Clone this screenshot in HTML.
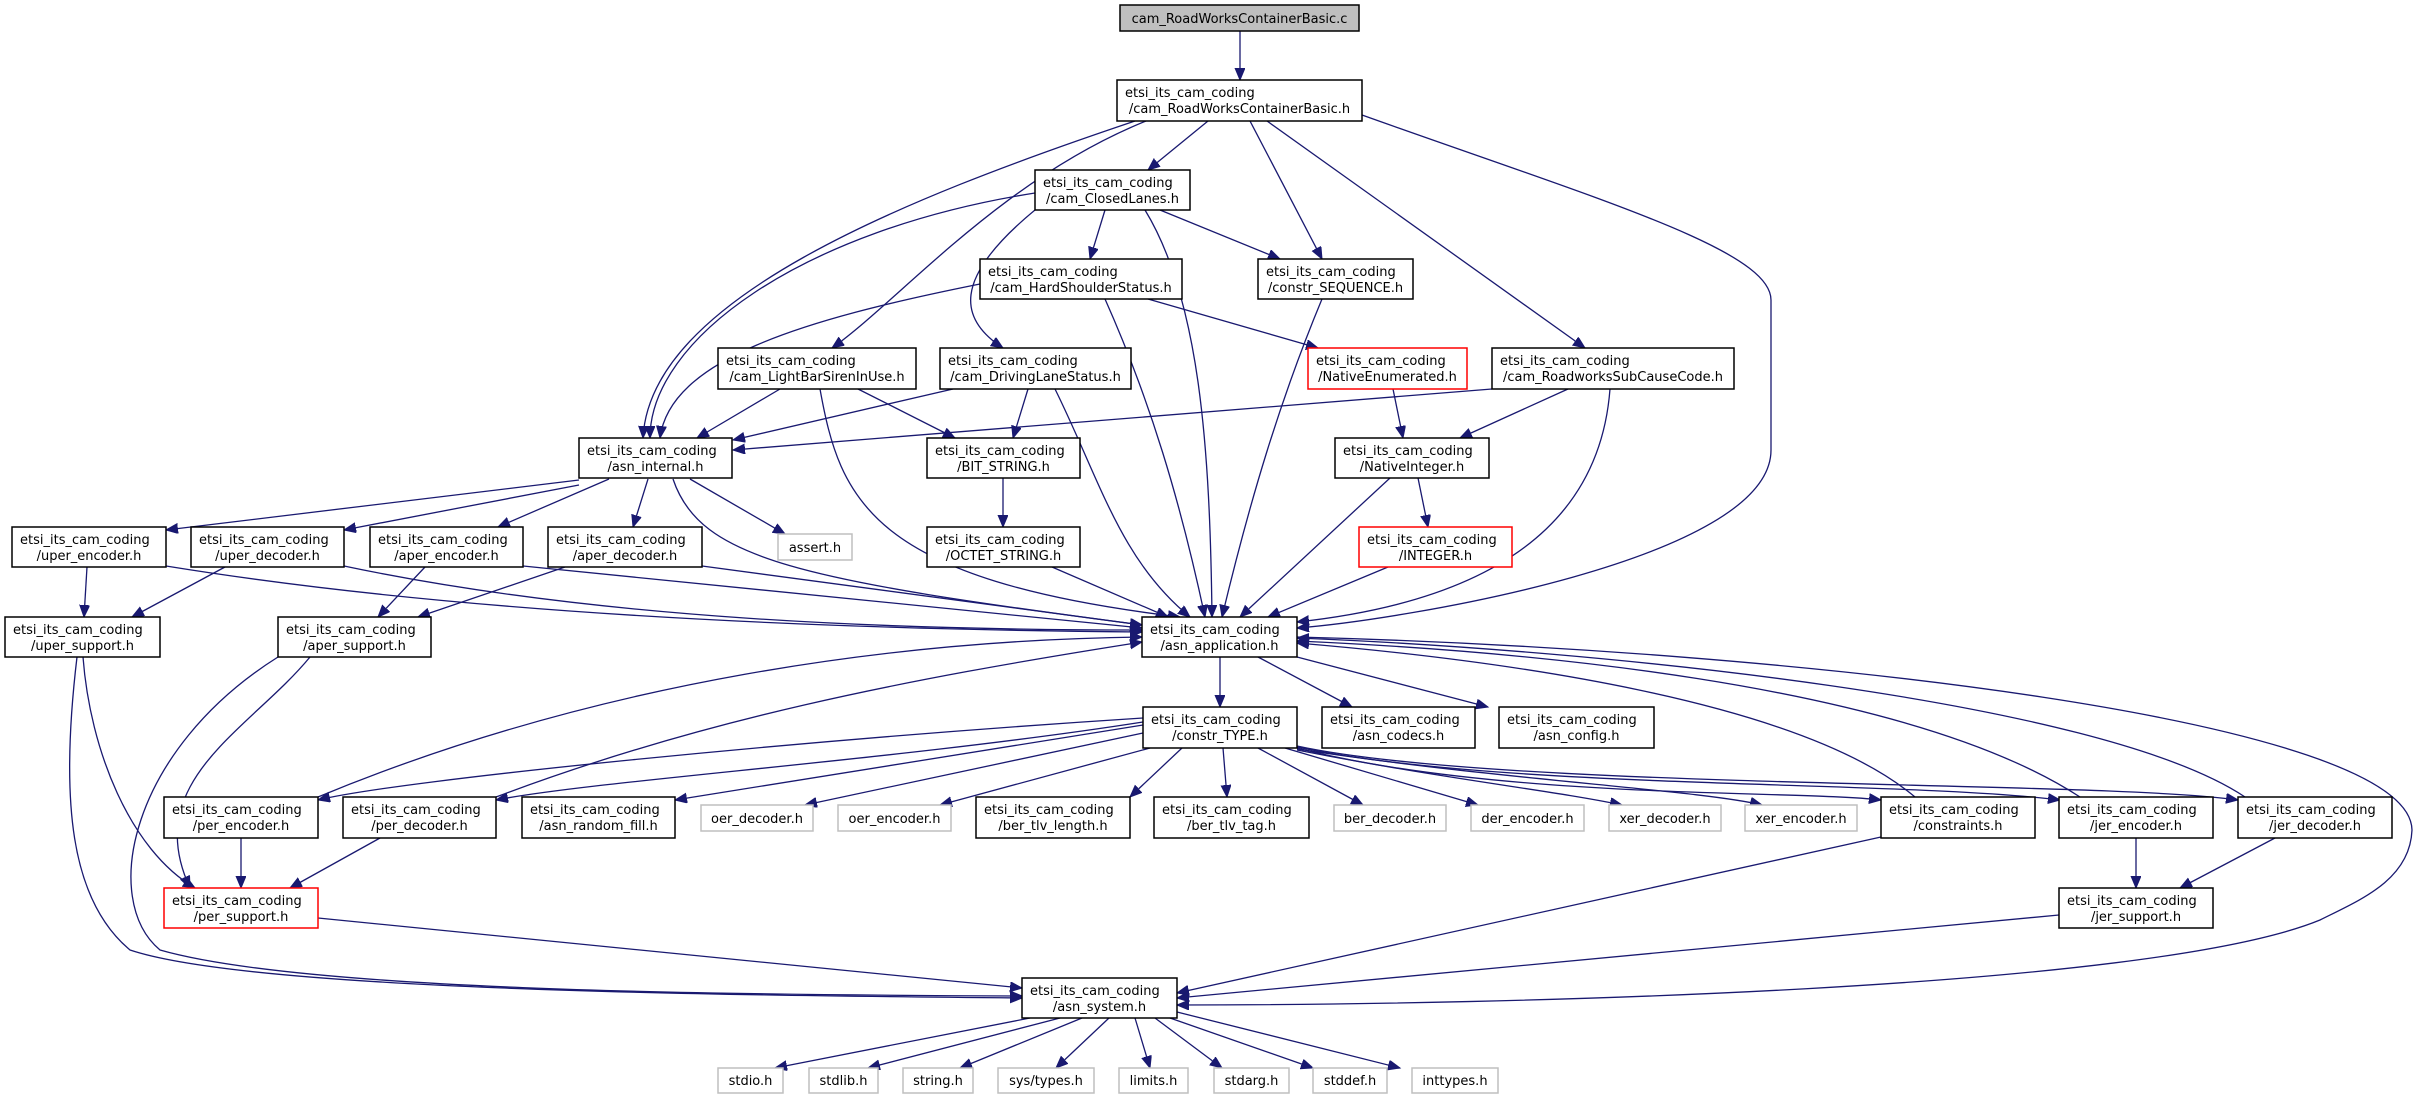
<!DOCTYPE html>
<html><head><meta charset="utf-8"><style>
html,body{margin:0;padding:0;background:#fff;}
svg{display:block;}
text{font-family:"DejaVu Sans","Liberation Sans",sans-serif;font-size:13px;fill:#000;}
.e{fill:none;stroke:#191970;stroke-width:1.3;marker-end:url(#a);}
.n{fill:#fff;stroke:#000;stroke-width:1.5;}
.g{fill:#fff;stroke:#bfbfbf;stroke-width:1.5;}
.r{fill:#fff;stroke:#ff0000;stroke-width:1.5;}
</style></head><body>
<svg width="2421" height="1095" viewBox="0 0 2421 1095" xmlns="http://www.w3.org/2000/svg">
<defs><marker id="a" markerUnits="userSpaceOnUse" markerWidth="14" markerHeight="12" refX="12" refY="5" orient="auto"><path d="M0,0 L12,5 L0,10 z" fill="#191970" stroke="#191970"/></marker></defs>
<g>
<path class="e" d="M1240,31 L1240,80"/>
<path class="e" d="M1135,121 C900,200 650,300 643,438"/>
<path class="e" d="M1146,121 C1000,180 900,300 832,348"/>
<path class="e" d="M1208,121 L1148,170"/>
<path class="e" d="M1250,121 L1322,259"/>
<path class="e" d="M1267,121 L1585,348"/>
<path class="e" d="M1362,115 C1600,200 1771,250 1771,300 L1771,450 C1771,560 1400,620 1297,628"/>
<path class="e" d="M1035,193 C800,230 650,340 650,438"/>
<path class="e" d="M1105,210 L1090,259"/>
<path class="e" d="M1160,210 L1280,259"/>
<path class="e" d="M1035,210 C950,280 960,320 1003,348"/>
<path class="e" d="M1145,210 C1200,300 1210,450 1212,617"/>
<path class="e" d="M980,284 C800,320 670,360 660,438"/>
<path class="e" d="M1148,299 L1318,348"/>
<path class="e" d="M1105,299 C1150,400 1180,500 1205,617"/>
<path class="e" d="M780,389 L697,438"/>
<path class="e" d="M858,389 L955,438"/>
<path class="e" d="M820,389 C840,500 870,580 1180,617"/>
<path class="e" d="M953,389 L733,440"/>
<path class="e" d="M1028,389 L1013,438"/>
<path class="e" d="M1055,389 C1100,480 1120,560 1190,617"/>
<path class="e" d="M1322,299 C1280,400 1250,500 1222,617"/>
<path class="e" d="M1393,389 L1403,438"/>
<path class="e" d="M1492,389 L733,450"/>
<path class="e" d="M1568,389 L1460,438"/>
<path class="e" d="M1610,389 C1600,520 1500,600 1297,622"/>
<path class="e" d="M1390,478 L1240,617"/>
<path class="e" d="M1418,478 L1428,527"/>
<path class="e" d="M1003,478 L1003,527"/>
<path class="e" d="M1052,567 L1168,617"/>
<path class="e" d="M1388,567 L1268,617"/>
<path class="e" d="M579,480 L166,530"/>
<path class="e" d="M579,485 L344,530"/>
<path class="e" d="M609,479 L498,527"/>
<path class="e" d="M648,479 L633,527"/>
<path class="e" d="M690,479 L785,534"/>
<path class="e" d="M673,479 C700,560 800,580 1142,625"/>
<path class="e" d="M87,567 L84,617"/>
<path class="e" d="M166,566 C500,620 900,630 1142,632"/>
<path class="e" d="M225,567 L132,617"/>
<path class="e" d="M344,566 C600,620 900,630 1142,630"/>
<path class="e" d="M425,567 L378,617"/>
<path class="e" d="M523,566 L1142,628"/>
<path class="e" d="M565,567 L418,617"/>
<path class="e" d="M702,566 L1142,625"/>
<path class="e" d="M83,657 C90,750 130,850 195,888"/>
<path class="e" d="M77,657 C60,800 70,900 130,950 C250,990 700,995 1022,998"/>
<path class="e" d="M310,657 C250,730 140,780 190,888"/>
<path class="e" d="M278,657 C130,750 100,900 160,950 C300,990 700,995 1022,996"/>
<path class="e" d="M1220,657 L1220,707"/>
<path class="e" d="M1258,657 L1352,707"/>
<path class="e" d="M1297,657 L1488,707"/>
<path class="e" d="M1297,637 C1800,650 2410,720 2412,830 C2410,880 2360,900 2320,920 C2150,990 1500,1005 1177,1005"/>
<path class="e" d="M1143,718 C800,740 400,780 318,800"/>
<path class="e" d="M1143,722 C900,760 600,780 496,800"/>
<path class="e" d="M1143,725 L675,800"/>
<path class="e" d="M1143,733 L805,805"/>
<path class="e" d="M1150,748 L940,805"/>
<path class="e" d="M1182,748 L1130,797"/>
<path class="e" d="M1223,748 L1227,797"/>
<path class="e" d="M1258,748 L1363,805"/>
<path class="e" d="M1285,748 L1478,805"/>
<path class="e" d="M1297,750 C1450,780 1550,790 1622,805"/>
<path class="e" d="M1297,749 C1500,780 1700,790 1762,805"/>
<path class="e" d="M1297,748 C1500,800 1800,790 1881,800"/>
<path class="e" d="M1297,747 C1500,790 1900,780 2060,800"/>
<path class="e" d="M1297,746 C1500,790 2100,780 2238,800"/>
<path class="e" d="M318,797 C600,680 900,640 1142,637"/>
<path class="e" d="M496,797 C700,720 900,680 1142,642"/>
<path class="e" d="M1915,797 C1800,700 1500,660 1297,643"/>
<path class="e" d="M2080,797 C1900,680 1500,650 1297,641"/>
<path class="e" d="M2245,797 C2100,700 1600,650 1297,638"/>
<path class="e" d="M241,838 L241,888"/>
<path class="e" d="M380,838 L290,888"/>
<path class="e" d="M318,918 L1022,988"/>
<path class="e" d="M1881,837 L1177,993"/>
<path class="e" d="M2136,838 L2136,888"/>
<path class="e" d="M2275,838 L2180,888"/>
<path class="e" d="M2059,915 L1177,998"/>
<path class="e" d="M1030,1018 L775,1068"/>
<path class="e" d="M1060,1018 L868,1068"/>
<path class="e" d="M1082,1018 L960,1068"/>
<path class="e" d="M1109,1018 L1056,1068"/>
<path class="e" d="M1135,1018 L1150,1068"/>
<path class="e" d="M1155,1018 L1222,1068"/>
<path class="e" d="M1170,1018 L1313,1068"/>
<path class="e" d="M1177,1012 L1400,1068"/>
</g>
<g>
<rect x="1120" y="5" width="239" height="26" fill="#bfbfbf" stroke="#000" stroke-width="1.5"/><text x="1239.5" y="23" text-anchor="middle">cam_RoadWorksContainerBasic.c</text>
<rect class="n" x="1117" y="80" width="245" height="41"/><text x="1125" y="97">etsi_its_cam_coding</text><text x="1239.5" y="113" text-anchor="middle">/cam_RoadWorksContainerBasic.h</text>
<rect class="n" x="1035" y="170" width="155" height="40"/><text x="1043" y="187">etsi_its_cam_coding</text><text x="1112.5" y="203" text-anchor="middle">/cam_ClosedLanes.h</text>
<rect class="n" x="980" y="259" width="202" height="40"/><text x="988" y="276">etsi_its_cam_coding</text><text x="1081" y="292" text-anchor="middle">/cam_HardShoulderStatus.h</text>
<rect class="n" x="1258" y="259" width="155" height="40"/><text x="1266" y="276">etsi_its_cam_coding</text><text x="1335.5" y="292" text-anchor="middle">/constr_SEQUENCE.h</text>
<rect class="n" x="718" y="348" width="198" height="41"/><text x="726" y="365">etsi_its_cam_coding</text><text x="817" y="381" text-anchor="middle">/cam_LightBarSirenInUse.h</text>
<rect class="n" x="940" y="348" width="191" height="41"/><text x="948" y="365">etsi_its_cam_coding</text><text x="1035.5" y="381" text-anchor="middle">/cam_DrivingLaneStatus.h</text>
<rect class="r" x="1308" y="348" width="159" height="41"/><text x="1316" y="365">etsi_its_cam_coding</text><text x="1387.5" y="381" text-anchor="middle">/NativeEnumerated.h</text>
<rect class="n" x="1492" y="348" width="242" height="41"/><text x="1500" y="365">etsi_its_cam_coding</text><text x="1613" y="381" text-anchor="middle">/cam_RoadworksSubCauseCode.h</text>
<rect class="n" x="579" y="438" width="153" height="40"/><text x="587" y="455">etsi_its_cam_coding</text><text x="655.5" y="471" text-anchor="middle">/asn_internal.h</text>
<rect class="n" x="927" y="438" width="153" height="40"/><text x="935" y="455">etsi_its_cam_coding</text><text x="1003.5" y="471" text-anchor="middle">/BIT_STRING.h</text>
<rect class="n" x="1335" y="438" width="154" height="40"/><text x="1343" y="455">etsi_its_cam_coding</text><text x="1412" y="471" text-anchor="middle">/NativeInteger.h</text>
<rect class="n" x="12" y="527" width="154" height="40"/><text x="20" y="544">etsi_its_cam_coding</text><text x="89" y="560" text-anchor="middle">/uper_encoder.h</text>
<rect class="n" x="191" y="527" width="153" height="40"/><text x="199" y="544">etsi_its_cam_coding</text><text x="267.5" y="560" text-anchor="middle">/uper_decoder.h</text>
<rect class="n" x="370" y="527" width="153" height="40"/><text x="378" y="544">etsi_its_cam_coding</text><text x="446.5" y="560" text-anchor="middle">/aper_encoder.h</text>
<rect class="n" x="548" y="527" width="154" height="40"/><text x="556" y="544">etsi_its_cam_coding</text><text x="625" y="560" text-anchor="middle">/aper_decoder.h</text>
<rect class="g" x="778" y="534" width="74" height="26"/><text x="815" y="552" text-anchor="middle">assert.h</text>
<rect class="n" x="927" y="527" width="153" height="40"/><text x="935" y="544">etsi_its_cam_coding</text><text x="1003.5" y="560" text-anchor="middle">/OCTET_STRING.h</text>
<rect class="r" x="1359" y="527" width="153" height="40"/><text x="1367" y="544">etsi_its_cam_coding</text><text x="1435.5" y="560" text-anchor="middle">/INTEGER.h</text>
<rect class="n" x="5" y="617" width="155" height="40"/><text x="13" y="634">etsi_its_cam_coding</text><text x="82.5" y="650" text-anchor="middle">/uper_support.h</text>
<rect class="n" x="278" y="617" width="153" height="40"/><text x="286" y="634">etsi_its_cam_coding</text><text x="354.5" y="650" text-anchor="middle">/aper_support.h</text>
<rect class="n" x="1142" y="617" width="155" height="40"/><text x="1150" y="634">etsi_its_cam_coding</text><text x="1219.5" y="650" text-anchor="middle">/asn_application.h</text>
<rect class="n" x="1143" y="707" width="154" height="41"/><text x="1151" y="724">etsi_its_cam_coding</text><text x="1220" y="740" text-anchor="middle">/constr_TYPE.h</text>
<rect class="n" x="1322" y="707" width="153" height="41"/><text x="1330" y="724">etsi_its_cam_coding</text><text x="1398.5" y="740" text-anchor="middle">/asn_codecs.h</text>
<rect class="n" x="1499" y="707" width="155" height="41"/><text x="1507" y="724">etsi_its_cam_coding</text><text x="1576.5" y="740" text-anchor="middle">/asn_config.h</text>
<rect class="n" x="164" y="797" width="154" height="41"/><text x="172" y="814">etsi_its_cam_coding</text><text x="241" y="830" text-anchor="middle">/per_encoder.h</text>
<rect class="n" x="343" y="797" width="153" height="41"/><text x="351" y="814">etsi_its_cam_coding</text><text x="419.5" y="830" text-anchor="middle">/per_decoder.h</text>
<rect class="n" x="522" y="797" width="153" height="41"/><text x="530" y="814">etsi_its_cam_coding</text><text x="598.5" y="830" text-anchor="middle">/asn_random_fill.h</text>
<rect class="g" x="701" y="805" width="112" height="26"/><text x="757" y="823" text-anchor="middle">oer_decoder.h</text>
<rect class="g" x="838" y="805" width="113" height="26"/><text x="894.5" y="823" text-anchor="middle">oer_encoder.h</text>
<rect class="n" x="976" y="797" width="154" height="41"/><text x="984" y="814">etsi_its_cam_coding</text><text x="1053" y="830" text-anchor="middle">/ber_tlv_length.h</text>
<rect class="n" x="1154" y="797" width="155" height="41"/><text x="1162" y="814">etsi_its_cam_coding</text><text x="1231.5" y="830" text-anchor="middle">/ber_tlv_tag.h</text>
<rect class="g" x="1334" y="805" width="112" height="26"/><text x="1390" y="823" text-anchor="middle">ber_decoder.h</text>
<rect class="g" x="1471" y="805" width="113" height="26"/><text x="1527.5" y="823" text-anchor="middle">der_encoder.h</text>
<rect class="g" x="1609" y="805" width="112" height="26"/><text x="1665" y="823" text-anchor="middle">xer_decoder.h</text>
<rect class="g" x="1745" y="805" width="112" height="26"/><text x="1801" y="823" text-anchor="middle">xer_encoder.h</text>
<rect class="n" x="1881" y="797" width="154" height="41"/><text x="1889" y="814">etsi_its_cam_coding</text><text x="1958" y="830" text-anchor="middle">/constraints.h</text>
<rect class="n" x="2059" y="797" width="154" height="41"/><text x="2067" y="814">etsi_its_cam_coding</text><text x="2136" y="830" text-anchor="middle">/jer_encoder.h</text>
<rect class="n" x="2238" y="797" width="154" height="41"/><text x="2246" y="814">etsi_its_cam_coding</text><text x="2315" y="830" text-anchor="middle">/jer_decoder.h</text>
<rect class="r" x="164" y="888" width="154" height="40"/><text x="172" y="905">etsi_its_cam_coding</text><text x="241" y="921" text-anchor="middle">/per_support.h</text>
<rect class="n" x="2059" y="888" width="154" height="40"/><text x="2067" y="905">etsi_its_cam_coding</text><text x="2136" y="921" text-anchor="middle">/jer_support.h</text>
<rect class="n" x="1022" y="978" width="155" height="40"/><text x="1030" y="995">etsi_its_cam_coding</text><text x="1099.5" y="1011" text-anchor="middle">/asn_system.h</text>
<rect class="g" x="718" y="1068" width="65" height="25"/><text x="750.5" y="1085" text-anchor="middle">stdio.h</text>
<rect class="g" x="809" y="1068" width="69" height="25"/><text x="843.5" y="1085" text-anchor="middle">stdlib.h</text>
<rect class="g" x="903" y="1068" width="70" height="25"/><text x="938" y="1085" text-anchor="middle">string.h</text>
<rect class="g" x="998" y="1068" width="96" height="25"/><text x="1046" y="1085" text-anchor="middle">sys/types.h</text>
<rect class="g" x="1119" y="1068" width="69" height="25"/><text x="1153.5" y="1085" text-anchor="middle">limits.h</text>
<rect class="g" x="1214" y="1068" width="75" height="25"/><text x="1251.5" y="1085" text-anchor="middle">stdarg.h</text>
<rect class="g" x="1313" y="1068" width="74" height="25"/><text x="1350" y="1085" text-anchor="middle">stddef.h</text>
<rect class="g" x="1412" y="1068" width="86" height="25"/><text x="1455" y="1085" text-anchor="middle">inttypes.h</text>
</g>
</svg>
</body></html>
